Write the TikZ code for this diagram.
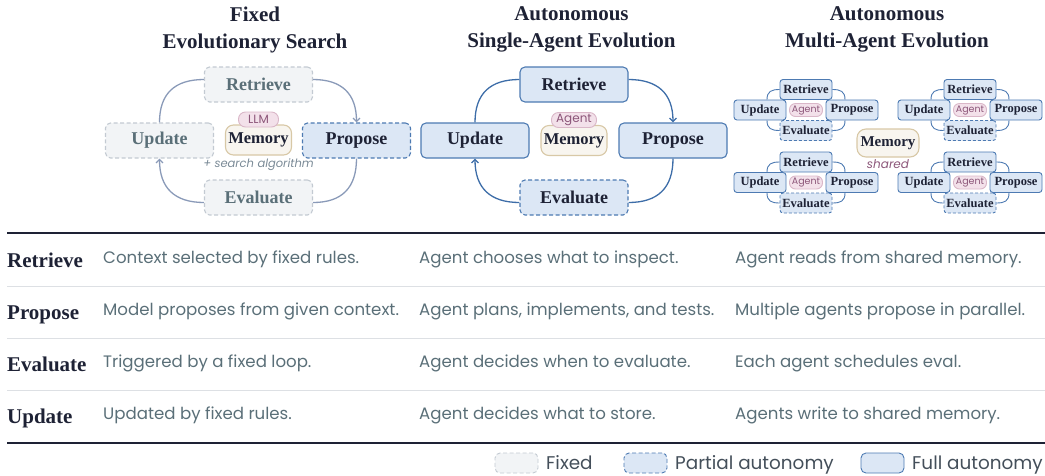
\documentclass[tikz,border=0pt]{standalone}
\usepackage{fontspec}
\setmainfont{Liberation Serif}
\newfontfamily\descfont{Poppins}
\usetikzlibrary{arrows.meta,positioning}

\definecolor{inkdark}{HTML}{1E2235}
\definecolor{inkgray}{HTML}{5A6F78}
\definecolor{inklegend}{HTML}{444F5A}
\definecolor{fixfill}{HTML}{F2F4F6}
\definecolor{fixline}{HTML}{C3CAD2}
\definecolor{autofill}{HTML}{DCE7F5}
\definecolor{autoline}{HTML}{4D7AB2}
\definecolor{flowgray}{HTML}{8A9AB8}
\definecolor{flowblue}{HTML}{3D6DA8}
\definecolor{memfill}{HTML}{F8F5EF}
\definecolor{memline}{HTML}{D8C8A6}
\definecolor{pillfill}{HTML}{F3E1EA}
\definecolor{pillline}{HTML}{DAB7C8}
\definecolor{pilltext}{HTML}{8C5679}
\definecolor{hintgray}{HTML}{7A8A96}
\definecolor{rulegray}{HTML}{DDE0E4}

\tikzset{
  stepbase/.style={rounded corners=5pt, line width=1.1pt, minimum width=108pt,
    minimum height=35pt, inner sep=0pt, font=\bfseries\fontsize{18}{20}\selectfont},
  fixedbox/.style={stepbase, fill=fixfill, draw=fixline, dash pattern=on 4pt off 2.5pt, text=inkgray},
  partbox/.style={stepbase, fill=autofill, draw=autoline, dash pattern=on 4pt off 2.5pt, text=inkdark},
  fullbox/.style={stepbase, fill=autofill, draw=autoline, text=inkdark},
  minibase/.style={rounded corners=3pt, line width=0.9pt, minimum width=52pt,
    minimum height=20pt, inner sep=0pt, fill=autofill, draw=autoline, text=inkdark,
    font=\bfseries\fontsize{12.5}{14}\selectfont},
  minifull/.style={minibase},
  minipart/.style={minibase, dash pattern=on 3pt off 2pt},
  memnode/.style={rounded corners=8pt, fill=memfill, draw=memline, line width=1.1pt,
    minimum width=66pt, minimum height=30pt, inner sep=0pt, text=inkdark,
    font=\bfseries\fontsize{16.5}{18}\selectfont},
  tagpill/.style={rounded corners=7pt, fill=pillfill, draw=pillline, line width=0.9pt,
    minimum height=15pt, inner sep=0pt, text=pilltext, font=\descfont\fontsize{12}{13}\selectfont},
  flowfix/.style={draw=flowgray, line width=1.3pt},
  flowauto/.style={draw=flowblue, line width=1.3pt},
  miniflow/.style={draw=autoline, line width=0.9pt},
  flowtip/.style={-{Straight Barb[length=3.5pt,width=7pt]}},
  coltitle/.style={align=center, text=inkdark, font=\bfseries\fontsize{21}{27}\selectfont},
  rowlabel/.style={anchor=base west, inner sep=0pt, text=inkdark, font=\bfseries\fontsize{21}{24}\selectfont},
  rowtext/.style={anchor=base west, inner sep=0pt, text=inkgray, font=\descfont\fontsize{16.6}{19}\selectfont},
  legtext/.style={anchor=base west, inner sep=0pt, text=inklegend, font=\descfont\fontsize{18.4}{20}\selectfont}
}

\begin{document}
\begin{tikzpicture}[x=1pt,y=1pt]
  \useasboundingbox (0,0) rectangle (1045,-475);

  % Column titles
  \node[coltitle] (tFix) at (255,-29.5) {Fixed\\Evolutionary Search};
  \node[coltitle] (tSingle) at (571.5,-29.5) {Autonomous\\Single-Agent Evolution};
  \node[coltitle] (tMulti) at (887,-29.5) {Autonomous\\Multi-Agent Evolution};

  % Fixed evolutionary search loop
  \node[fixedbox] (fRet) at (258.5,-84.5) {Retrieve};
  \node[fixedbox] (fUpd) at (159.5,-140.5) {Update};
  \node[partbox] (fPro) at (356.5,-140.5) {Propose};
  \node[fixedbox] (fEva) at (258.5,-197.5) {Evaluate};
  \node[memnode] (fMem) at (258.5,-140) {Memory};
  \node[tagpill, minimum width=40pt] (fTag) at (258.5,-119.5) {LLM};
  \node[text=hintgray, font=\descfont\itshape\fontsize{11.5}{13}\selectfont] (fHint) at (258.5,-165) {+ search algorithm};
  \draw[flowfix] ([yshift=5pt]fRet.west) to[out=180,in=90,looseness=1.2] (fUpd.north);
  \draw[flowfix,flowtip] ([yshift=5pt]fRet.east) to[out=0,in=90,looseness=1.2] (fPro.north);
  \draw[flowfix] (fPro.south) to[out=-90,in=0,looseness=1.2] ([yshift=-5pt]fEva.east);
  \draw[flowfix,flowtip] ([yshift=-5pt]fEva.west) to[out=180,in=-90,looseness=1.2] (fUpd.south);

  % Single-agent loop
  \node[fullbox] (sRet) at (574,-84.5) {Retrieve};
  \node[fullbox] (sUpd) at (475,-140.5) {Update};
  \node[fullbox] (sPro) at (673,-140.5) {Propose};
  \node[partbox] (sEva) at (574,-197.5) {Evaluate};
  \node[memnode] (sMem) at (574,-140.5) {Memory};
  \node[tagpill, minimum width=45pt] (sTag) at (574,-120) {Agent};
  \draw[flowauto] ([yshift=5pt]sRet.west) to[out=180,in=90,looseness=1.2] (sUpd.north);
  \draw[flowauto,flowtip] ([yshift=5pt]sRet.east) to[out=0,in=90,looseness=1.2] (sPro.north);
  \draw[flowauto] (sPro.south) to[out=-90,in=0,looseness=1.2] ([yshift=-5pt]sEva.east);
  \draw[flowauto,flowtip] ([yshift=-5pt]sEva.west) to[out=180,in=-90,looseness=1.2] (sUpd.south);

  % Multi-agent loops around a shared memory
  \node[memnode, minimum width=62pt, minimum height=28pt, rounded corners=9pt,
    font=\bfseries\fontsize{15}{17}\selectfont] (mMem) at (888,-143) {Memory};
  \node[text=pilltext, font=\descfont\itshape\fontsize{12}{13}\selectfont] (mHint) at (888,-164) {shared};
  \foreach \cx/\cy/\q in {806/110/a, 970/110/b, 806/182.5/c, 970/182.5/d} {
    \node[minifull] (\q Upd) at (\cx-46,-\cy) {Update};
    \node[minifull] (\q Pro) at (\cx+46,-\cy) {Propose};
    \node[minifull] (\q Ret) at (\cx,-\cy+20.5) {Retrieve};
    \node[minipart] (\q Eva) at (\cx,-\cy-20.5) {Evaluate};
    \node[tagpill, minimum width=33pt, minimum height=13pt, rounded corners=6pt,
      font=\descfont\fontsize{9.5}{10}\selectfont] (\q Tag) at (\cx,-\cy) {Agent};
    \draw[miniflow] (\q Ret.west) to[out=180,in=90,looseness=1.3] ([xshift=7pt]\q Upd.north);
    \draw[miniflow] (\q Ret.east) to[out=0,in=90,looseness=1.3] ([xshift=-7pt]\q Pro.north);
    \draw[miniflow] ([xshift=-7pt]\q Pro.south) to[out=-90,in=0,looseness=1.3] (\q Eva.east);
    \draw[miniflow] ([xshift=7pt]\q Upd.south) to[out=-90,in=180,looseness=1.3] (\q Eva.west);
  }

  % Table rules
  \draw[line width=2pt, inkdark] (7,-233) -- (1045,-233);
  \foreach \ry in {286,338,390}
    \draw[line width=1pt, rulegray] (7,-\ry) -- (1045,-\ry);
  \draw[line width=2pt, inkdark] (7,-443) -- (1045,-443);

  % Table rows
  \node[rowlabel] (rRet) at (7,-267) {Retrieve};
  \node[rowtext] (dRetA) at (103,-263) {Context selected by fixed rules.};
  \node[rowtext] (dRetB) at (419,-263) {Agent chooses what to inspect.};
  \node[rowtext] (dRetC) at (735,-263) {Agent reads from shared memory.};

  \node[rowlabel] (rPro) at (7,-319) {Propose};
  \node[rowtext] (dProA) at (103,-315) {Model proposes from given context.};
  \node[rowtext] (dProB) at (419,-315) {Agent plans, implements, and tests.};
  \node[rowtext] (dProC) at (735,-315) {Multiple agents propose in parallel.};

  \node[rowlabel] (rEva) at (7,-371) {Evaluate};
  \node[rowtext] (dEvaA) at (103,-367) {Triggered by a fixed loop.};
  \node[rowtext] (dEvaB) at (419,-367) {Agent decides when to evaluate.};
  \node[rowtext] (dEvaC) at (735,-367) {Each agent schedules eval.};

  \node[rowlabel] (rUpd) at (7,-423) {Update};
  \node[rowtext] (dUpdA) at (103,-419) {Updated by fixed rules.};
  \node[rowtext] (dUpdB) at (419,-419) {Agent decides what to store.};
  \node[rowtext] (dUpdC) at (735,-419) {Agents write to shared memory.};

  % Legend
  \node[fixedbox, minimum width=43pt, minimum height=20pt, line width=0.9pt] (lgFix) at (516.5,-463) {};
  \node[legtext] (lgFixT) at (546,-469) {Fixed};
  \node[partbox, minimum width=43pt, minimum height=20pt, line width=0.9pt] (lgPart) at (645.5,-463) {};
  \node[legtext] (lgPartT) at (675,-469) {Partial autonomy};
  \node[fullbox, minimum width=43pt, minimum height=20pt, line width=0.9pt] (lgFull) at (882.5,-463) {};
  \node[legtext] (lgFullT) at (912,-469) {Full autonomy};
\end{tikzpicture}
\end{document}
